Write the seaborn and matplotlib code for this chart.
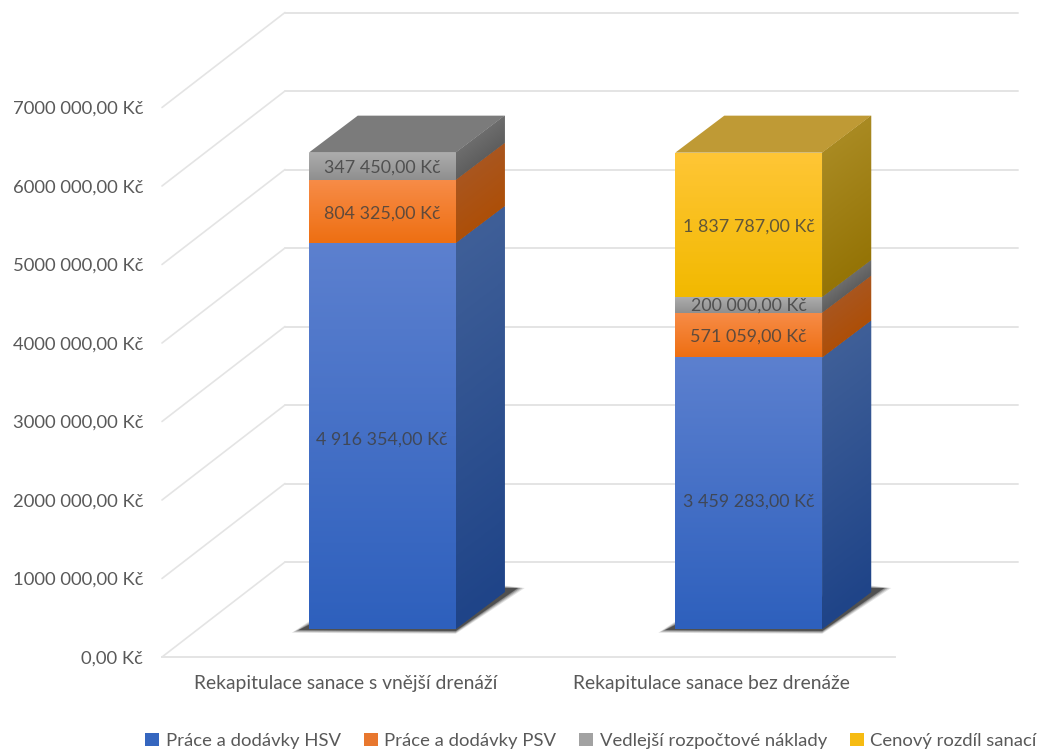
import numpy as np
import matplotlib
matplotlib.use("Agg")
import matplotlib.pyplot as plt
from matplotlib.colors import LinearSegmentedColormap
from matplotlib.patches import Patch, Polygon
from matplotlib.transforms import Affine2D
import seaborn as sns

# Cost recapitulation of the two remediation variants, in CZK
categories = ["Rekapitulace sanace s vnější drenáží", "Rekapitulace sanace bez drenáže"]
series_names = ["Práce a dodávky HSV", "Práce a dodávky PSV",
                "Vedlejší rozpočtové náklady", "Cenový rozdíl sanací"]
hsv_costs = [4916354, 3459283]
psv_costs = [804325, 571059]
secondary_costs = [347450, 200000]
price_difference = [0, 1837787]
tick_values = [0, 1000000, 2000000, 3000000, 4000000, 5000000, 6000000, 7000000]
tick_labels = ["0,00 Kč", "1000 000,00 Kč", "2000 000,00 Kč", "3000 000,00 Kč",
               "4000 000,00 Kč", "5000 000,00 Kč", "6000 000,00 Kč", "7000 000,00 Kč"]

# (front top, front bottom, side top, side bottom, roof)
palette = [
    ("#5c80cf", "#2e60bd", "#3f5f98", "#1f4488", "#3d5a90"),
    ("#f78c48", "#ee6f12", "#a9561f", "#ad4f08", "#a9561f"),
    ("#adadad", "#8f8f8f", "#6d6d6d", "#5e5e5e", "#7b7b7b"),
    ("#ffc636", "#f2b900", "#a98a22", "#957406", "#bf9a35"),
]
legend_colors = ["#3566bf", "#e8772e", "#a2a2a2", "#f6bb12"]
# downward shift of each value label from its segment centre, in pixels
label_drop = [(4, 8), (2, 2), (1, 1), (0, 2)]

GRID = "#e4e4e4"
TEXT = "#595959"
LABEL = "#3f3f3f"

FIG_W, FIG_H = 1039, 752
AX_L, AX_R, AX_TOP, AX_BOT = 162, 895, 107.5, 657
BAR_WIDTH = 0.401
# pixel shear of the oblique projection
WALL_DX, WALL_DY = 123, 95      # front floor edge to back wall
BAR_DX, BAR_DY = 37, 28         # front floor edge to bar front
SIDE_DX, SIDE_DY = 49, 37       # bar front to bar back

sns.set_theme(style="white")
plt.rcParams["font.family"] = ["Lato", "DejaVu Sans"]

fig = plt.figure(figsize=(FIG_W / 100, FIG_H / 100), dpi=100, facecolor="white")
ax = fig.add_axes([AX_L / FIG_W, 1 - AX_BOT / FIG_H,
                   (AX_R - AX_L) / FIG_W, (AX_BOT - AX_TOP) / FIG_H])

stack = [np.array(hsv_costs), np.array(psv_costs),
         np.array(secondary_costs), np.array(price_difference)]
bottoms = np.vstack([np.zeros(2), np.cumsum(stack, axis=0)[:-1]])
totals = np.sum(stack, axis=0)

for values, base, colors in zip(stack, bottoms, palette):
    sns.barplot(x=categories, y=values, bottom=base, width=BAR_WIDTH, color=colors[1],
                saturation=1, errorbar=None, linewidth=0, ax=ax, zorder=3)

ax.set_xlim(-0.5, 1.5)
ax.set_ylim(0, 7000000)

px_x = (AX_R - AX_L) / 2.0
px_y = (AX_BOT - AX_TOP) / 7000000.0
bar_shift = ax.transData + Affine2D().translate(BAR_DX, BAR_DY)
side_dx = SIDE_DX / px_x
side_dy = SIDE_DY / px_y

for patch in ax.patches:
    patch.set_transform(bar_shift)


def shaded_face(verts, top_color, bottom_color, rise=0.0, zorder=4):
    """Fill a polygon with a top-to-bottom blend; rise is the shear of the face in y units."""
    verts = np.asarray(verts, dtype=float)
    x0, x1 = verts[:, 0].min(), verts[:, 0].max()
    y0, y1 = verts[:, 1].min(), verts[:, 1].max()
    poly = Polygon(verts, closed=True, transform=bar_shift, facecolor=bottom_color,
                   edgecolor="none", zorder=zorder)
    ax.add_patch(poly)
    u, v = np.meshgrid(np.linspace(0, 1, 48), np.linspace(1, 0, 96))
    height = max((y1 - y0) - rise, 1.0)
    shade = np.clip((v * (y1 - y0) - u * rise) / height, 0, 1)
    cmap = LinearSegmentedColormap.from_list("face", [bottom_color, top_color])
    img = ax.imshow(shade, cmap=cmap, vmin=0, vmax=1, extent=(x0, x1, y0, y1), aspect="auto",
                    interpolation="bilinear", zorder=zorder + 0.1)
    img.set_transform(bar_shift)
    img.set_clip_path(poly)


for i in range(len(categories)):
    left, right = i - BAR_WIDTH / 2, i + BAR_WIDTH / 2
    # soft floor shadow cast to both sides of the bar
    for grow, alpha in ((7, 0.14), (5, 0.2), (3, 0.3), (1, 0.4), (0, 0.6)):
        tip = np.array([[left - (10 + grow) / px_x, -(1 + grow / 2.5) / px_y],
                        [right, -(2 + grow / 2.5) / px_y],
                        [right + side_dx + (13 + grow) / px_x, side_dy + 4 / px_y],
                        [right + side_dx, side_dy + (4 + grow / 3) / px_y],
                        [left, (4 + grow / 2) / px_y]])
        ax.add_patch(Polygon(tip, closed=True, transform=bar_shift, facecolor="#3a3a3a",
                             edgecolor="none", alpha=alpha, zorder=2.5))
    for values, base, colors, drop in zip(stack, bottoms, palette, label_drop):
        if values[i] == 0:
            continue
        y0, y1 = base[i], base[i] + values[i]
        shaded_face([(left, y0), (right, y0), (right, y1), (left, y1)], colors[0], colors[1])
        shaded_face([(right, y0), (right + side_dx, y0 + side_dy),
                     (right + side_dx, y1 + side_dy), (right, y1)],
                    colors[2], colors[3], rise=side_dy)
        ax.text(i, (y0 + y1) / 2 - drop[i] / px_y,
                f"{values[i]:,.2f} Kč".replace(",", " ").replace(".", ","),
                transform=bar_shift, ha="center", va="center", fontsize=12.9,
                color=LABEL, alpha=0.82, zorder=6)
    # roof takes the colour of the uppermost non-empty segment
    roof = [c for v, c in zip(stack, palette) if v[i] > 0][-1][4]
    ax.add_patch(Polygon([(left, totals[i]), (right, totals[i]),
                          (right + side_dx, totals[i] + side_dy),
                          (left + side_dx, totals[i] + side_dy)],
                         closed=True, transform=bar_shift, facecolor=roof,
                         edgecolor="none", zorder=5))

# back wall and side wall gridlines
wall_shift = ax.transData + Affine2D().translate(WALL_DX, WALL_DY)
wall_dx = WALL_DX / px_x
wall_dy = WALL_DY / px_y
for tick in tick_values:
    ax.plot([-0.5, 1.5], [tick, tick], transform=wall_shift, color=GRID, lw=1.4,
            clip_on=False, zorder=1)
    ax.plot([-0.5, -0.5 + wall_dx], [tick, tick + wall_dy], color=GRID, lw=1.2,
            clip_on=False, zorder=1)

ax.set_ylim(0, 7000000)
ax.set_xlim(-0.5, 1.5)
ax.set_yticks(tick_values, tick_labels)
ax.set_xticks([0, 1], categories)
ax.tick_params(axis="y", length=0, pad=13.5, labelsize=13.3, labelcolor=TEXT)
ax.tick_params(axis="x", length=0, pad=13, labelsize=13.9, labelcolor=TEXT)
ax.set_xlabel("")
ax.set_ylabel("")
ax.patch.set_alpha(0)
ax.set_clip_on(False)
for artist in ax.patches:
    artist.set_clip_on(False)
for artist in ax.images:
    artist.set_clip_on(True)
for side in ("top", "right", "left"):
    ax.spines[side].set_visible(False)
ax.spines["bottom"].set_color(GRID)
ax.spines["bottom"].set_linewidth(1.4)

handles = [Patch(facecolor=c, edgecolor="none") for c in legend_colors]
fig.legend(handles, series_names, loc="center", bbox_to_anchor=(591 / FIG_W, 1 - 741 / FIG_H),
           ncols=4, frameon=False, fontsize=13.3, labelcolor=TEXT, handlelength=0.75,
           handleheight=0.75, handletextpad=0.35, columnspacing=1.25, borderpad=0, borderaxespad=0)

fig.savefig("out.png", dpi=100, facecolor="white")
